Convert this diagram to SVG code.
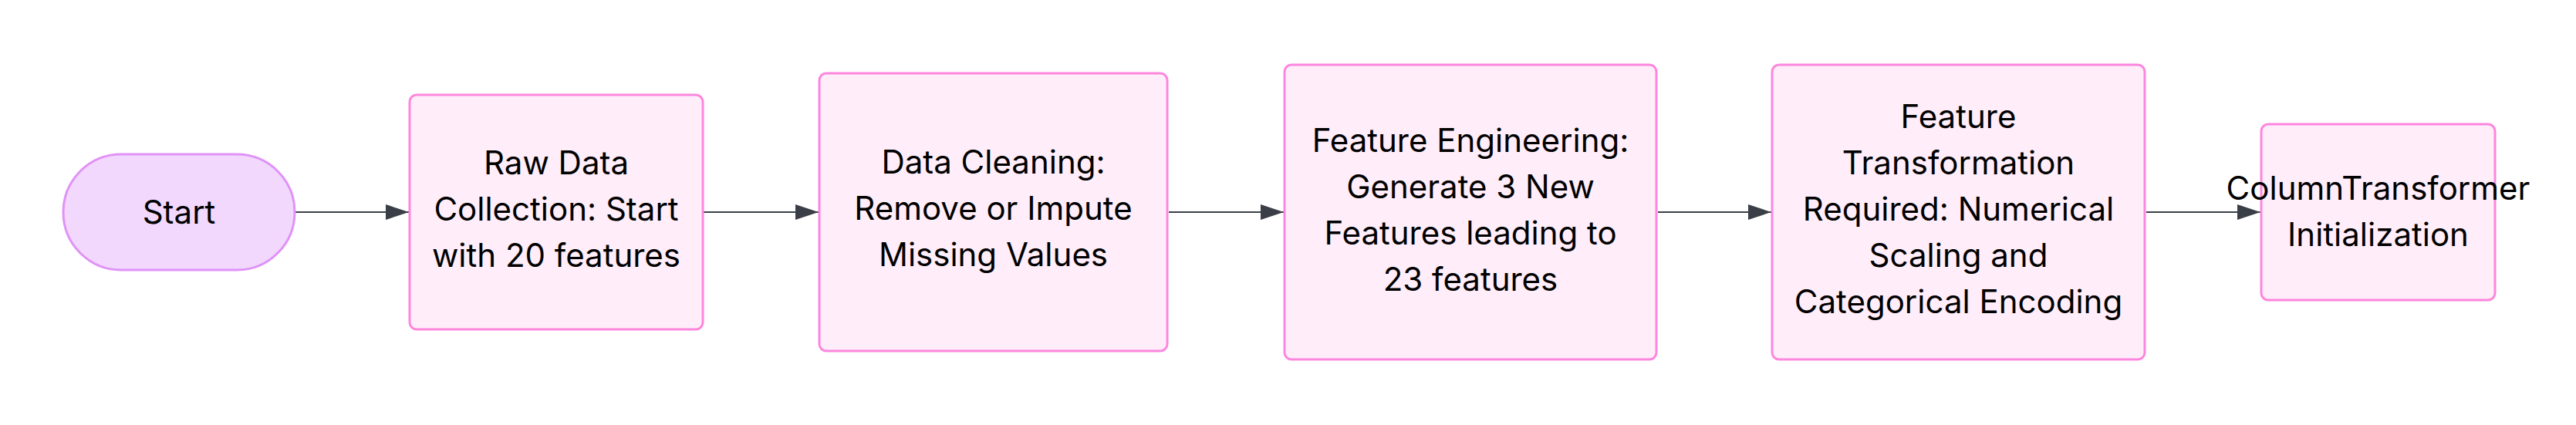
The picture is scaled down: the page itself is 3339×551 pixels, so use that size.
<svg xmlns="http://www.w3.org/2000/svg" width="3339" height="551" viewBox="0 0 3339 551">
<style>
  .bg { fill: #ffffff; }
  .start { fill: #f2d8fd; stroke: #e092f7; stroke-width: 3; }
  .box { fill: #ffeefa; stroke: #fd86de; stroke-width: 3; }
  .lbl { font-family: Inter, "Liberation Sans", sans-serif; font-size: 42px; fill: #000000; text-anchor: middle; }
  .edge { stroke: #3a3f47; stroke-width: 2.2; fill: none; }
</style>
<defs>
  <marker id="arrow" viewBox="0 0 30 20" refX="30" refY="10" markerWidth="30" markerHeight="20" markerUnits="userSpaceOnUse" orient="auto">
    <path d="M0,0 L30,10 L0,20 z" fill="#3a3f47"/>
  </marker>
</defs>
<rect class="bg" x="0" y="0" width="3339" height="551"/>
<g id="connectors">
  <line class="edge" x1="383" y1="275" x2="530" y2="275" marker-end="url(#arrow)"/>
  <line class="edge" x1="912" y1="275" x2="1061" y2="275" marker-end="url(#arrow)"/>
  <line class="edge" x1="1515" y1="275" x2="1664" y2="275" marker-end="url(#arrow)"/>
  <line class="edge" x1="2149" y1="275" x2="2296" y2="275" marker-end="url(#arrow)"/>
  <line class="edge" x1="2782" y1="275" x2="2930" y2="275" marker-end="url(#arrow)"/>
</g>
<g id="node-start">
  <rect class="start" x="82" y="200" width="300" height="150" rx="75" ry="75"/>
  <text class="lbl" x="232" y="290">Start</text>
</g>
<g id="node-raw">
  <rect class="box" x="531" y="123" width="380" height="304" rx="9" ry="9"/>
  <text class="lbl" x="721" y="226">Raw Data</text>
  <text class="lbl" x="721" y="286">Collection: Start</text>
  <text class="lbl" x="721" y="346">with 20 features</text>
</g>
<g id="node-clean">
  <rect class="box" x="1062" y="95" width="451" height="360" rx="9" ry="9"/>
  <text class="lbl" x="1287.5" y="225">Data Cleaning:</text>
  <text class="lbl" x="1287.5" y="285">Remove or Impute</text>
  <text class="lbl" x="1287.5" y="345">Missing Values</text>
</g>
<g id="node-fe">
  <rect class="box" x="1665" y="84" width="482" height="382" rx="9" ry="9"/>
  <text class="lbl" x="1906" y="197">Feature Engineering:</text>
  <text class="lbl" x="1906" y="257">Generate 3 New</text>
  <text class="lbl" x="1906" y="317">Features leading to</text>
  <text class="lbl" x="1906" y="377">23 features</text>
</g>
<g id="node-ft">
  <rect class="box" x="2297" y="84" width="483" height="382" rx="9" ry="9"/>
  <text class="lbl" x="2538.5" y="166">Feature</text>
  <text class="lbl" x="2538.5" y="226">Transformation</text>
  <text class="lbl" x="2538.5" y="286">Required: Numerical</text>
  <text class="lbl" x="2538.5" y="346">Scaling and</text>
  <text class="lbl" x="2538.5" y="406">Categorical Encoding</text>
</g>
<g id="node-ct">
  <rect class="box" x="2931" y="161" width="303" height="228" rx="9" ry="9"/>
  <text class="lbl" x="3082.5" y="259">ColumnTransformer</text>
  <text class="lbl" x="3082.5" y="319">Initialization</text>
</g>
</svg>
